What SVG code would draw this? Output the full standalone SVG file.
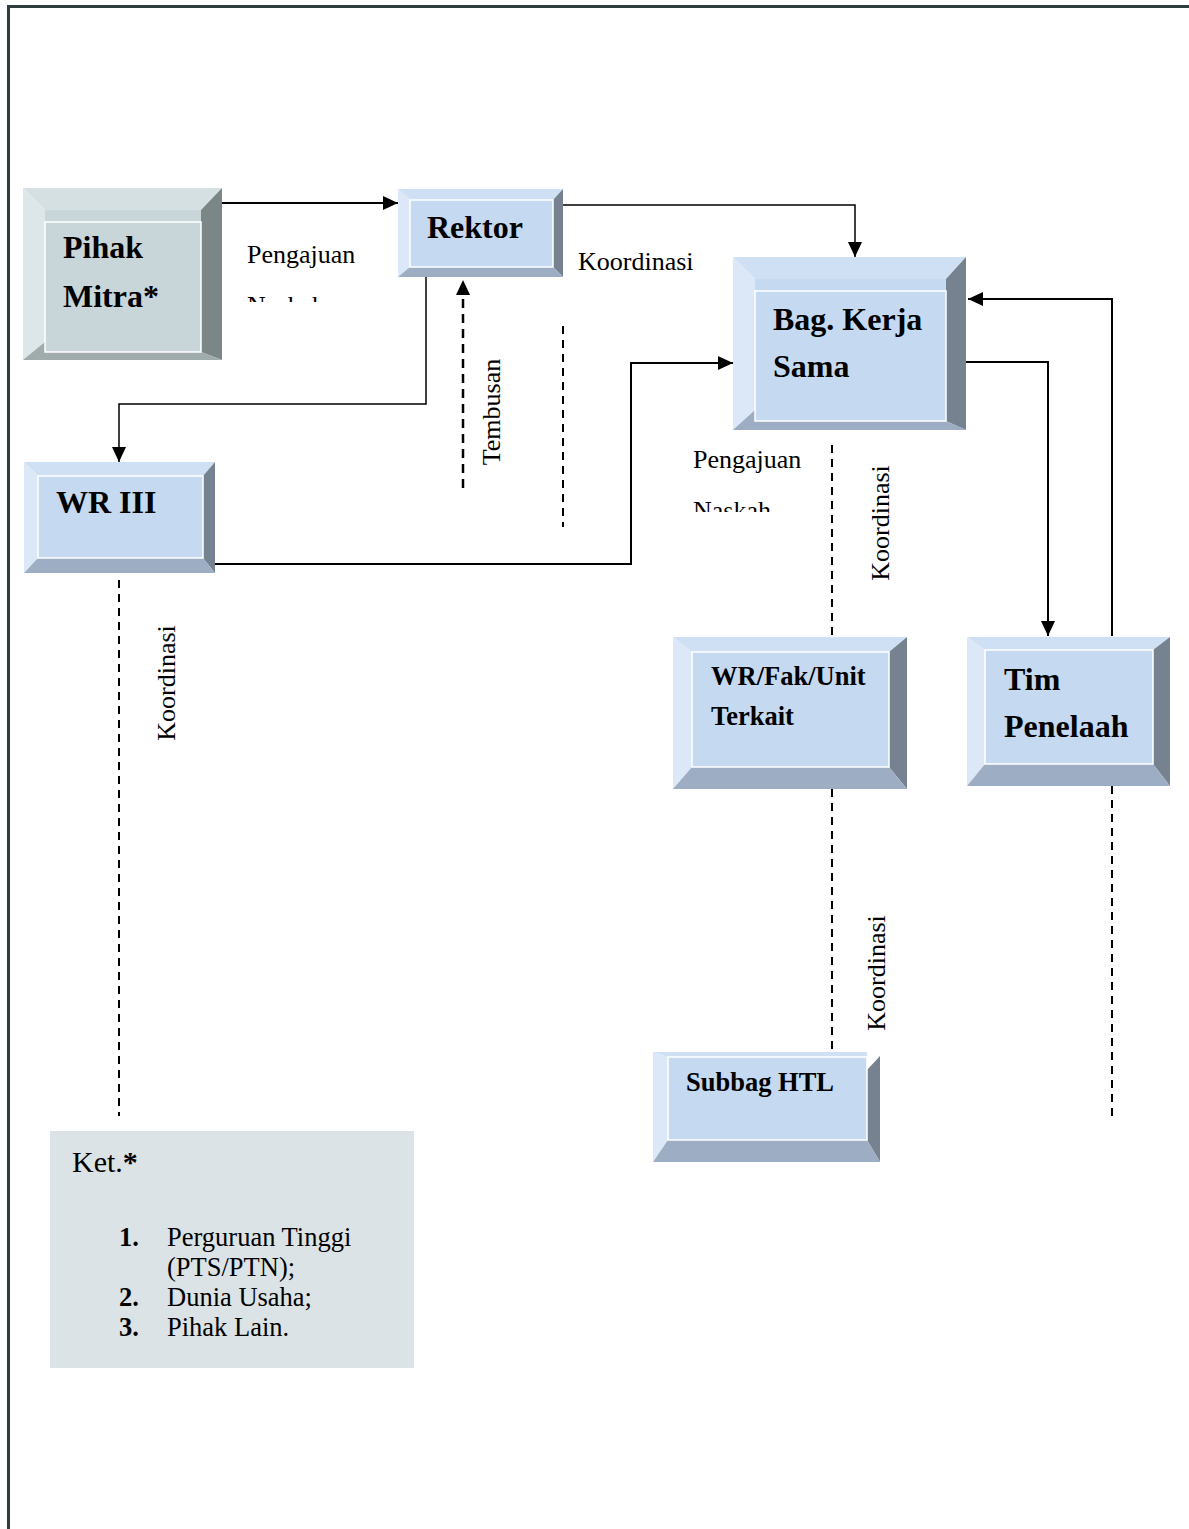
<svg xmlns="http://www.w3.org/2000/svg" width="1189" height="1529" viewBox="0 0 1189 1529">
<style>
text{font-family:"Liberation Serif","Times New Roman",serif;fill:#000}
.b{font-weight:bold}
.n{font-size:32px}
.s{font-size:26.5px}
.lab{font-size:26px}
.ln{fill:none;stroke:#000;stroke-width:2}
.lt{fill:none;stroke:#000;stroke-width:1.5}
.d1{fill:none;stroke:#000;stroke-width:2.5;stroke-dasharray:9 6}
.d2{fill:none;stroke:#000;stroke-width:2;stroke-dasharray:8 6}
.bt{fill:#d0e0f4}.bl{fill:#dce8f7}.br{fill:#76828f}.bb{fill:#9dadc3}.bf{fill:#c5d9f1}
.gt{fill:#d5e0e2}.gl{fill:#dde6e8}.gr{fill:#7b8686}.gb{fill:#a0abab}.gf{fill:#c8d6da}
.wl{fill:none;stroke:#ffffff;stroke-width:1.5}
</style>
<defs>
<marker id="ah" markerUnits="userSpaceOnUse" markerWidth="16" markerHeight="14" refX="15" refY="7" orient="auto">
<path d="M0,0 L15,7 L0,14 Z" fill="#000"/>
</marker>
<clipPath id="c1"><rect x="240" y="280" width="140" height="22"/></clipPath>
<clipPath id="c2"><rect x="685" y="480" width="140" height="32"/></clipPath>
</defs>
<rect x="0" y="0" width="1189" height="1529" fill="#fff"/>
<path d="M8.5,1529 V6.5 H1189" fill="none" stroke="#2e3d3d" stroke-width="3"/>

<g id="connectors">
<path class="ln" d="M222,203 H398" marker-end="url(#ah)"/>
<path class="lt" d="M563,205 H855 V257" marker-end="url(#ah)"/>
<path class="lt" d="M426,277 V404 H119 V462" marker-end="url(#ah)"/>
<path class="d1" d="M463,488 V280" marker-end="url(#ah)"/>
<path class="d2" d="M563,326 V527"/>
<path class="ln" d="M215,564 H631 V363 H733" marker-end="url(#ah)"/>
<path class="ln" d="M966,362 H1048 V636" marker-end="url(#ah)"/>
<path class="ln" d="M1112,636 V299 H968" marker-end="url(#ah)"/>
<path class="d2" d="M832,445 V637"/>
<path class="d2" d="M832,789 V1052"/>
<path class="d2" d="M1112,786 V1116"/>
<path class="d2" d="M119,580 V1116"/>
<text class="lab" x="247" y="263">Pengajuan</text>
<text class="lab" x="247" y="314" clip-path="url(#c1)">Naskah</text>
<text class="lab" x="578" y="270">Koordinasi</text>
<text class="lab" text-anchor="middle" transform="translate(500,412) rotate(-90)">Tembusan</text>
<text class="lab" x="693" y="468">Pengajuan</text>
<text class="lab" x="693" y="519" clip-path="url(#c2)">Naskah</text>
<text class="lab" text-anchor="middle" transform="translate(889,523) rotate(-90)">Koordinasi</text>
<text class="lab" text-anchor="middle" transform="translate(885,973) rotate(-90)">Koordinasi</text>
<text class="lab" text-anchor="middle" transform="translate(175,683) rotate(-90)">Koordinasi</text>
</g>

<g id="pihak-mitra">
<polygon class="gt" points="23,188 222,188 201,210 45,210"/>
<polygon class="gl" points="23,188 45,210 45,352 23,360"/>
<polygon class="gr" points="222,188 222,360 201,352 201,210"/>
<polygon class="gb" points="23,360 222,360 201,352 45,352 45,342"/>
<rect class="gf" x="45" y="210" width="156" height="142"/>
<rect class="wl" x="45" y="222" width="156" height="130"/>
<text class="b n" x="63" y="258">Pihak</text>
<text class="b n" x="63" y="307">Mitra*</text>
</g>

<g id="rektor">
<polygon class="bt" points="398,189 563,189 553,200 410,200"/>
<polygon class="bl" points="398,189 410,200 410,267 398,277"/>
<polygon class="br" points="563,189 563,277 553,267 553,200"/>
<polygon class="bb" points="398,277 563,277 553,267 410,267"/>
<rect class="bf" x="410" y="200" width="143" height="67"/>
<rect class="wl" x="410" y="200" width="143" height="67"/>
<text class="b n" x="427" y="238">Rektor</text>
</g>

<g id="bag-kerja-sama">
<polygon class="bt" points="733,257 966,257 946,279 755,279"/>
<polygon class="bl" points="733,257 755,279 755,421 733,430"/>
<polygon class="br" points="966,257 966,430 946,421 946,279"/>
<polygon class="bb" points="733,430 966,430 946,421 755,421 755,410"/>
<rect class="bf" x="755" y="279" width="191" height="142"/>
<rect class="wl" x="755" y="291" width="191" height="130"/>
<text class="b n" x="773" y="330">Bag. Kerja</text>
<text class="b n" x="773" y="377">Sama</text>
</g>

<g id="wr-iii">
<polygon class="bt" points="24,462 215,462 203,476 38,476"/>
<polygon class="bl" points="24,462 38,476 38,558 24,573"/>
<polygon class="br" points="215,462 215,573 203,558 203,476"/>
<polygon class="bb" points="24,573 215,573 203,558 38,558"/>
<rect class="bf" x="38" y="476" width="165" height="82"/>
<rect class="wl" x="38" y="476" width="165" height="82"/>
<text class="b n" x="56" y="513">WR III</text>
</g>

<g id="wr-fak-unit">
<polygon class="bt" points="673,637 907,637 889,652 692,652"/>
<polygon class="bl" points="673,637 692,652 692,767 673,789"/>
<polygon class="br" points="907,637 907,789 889,767 889,652"/>
<polygon class="bb" points="673,789 907,789 889,767 692,767"/>
<rect class="bf" x="692" y="652" width="197" height="115"/>
<rect class="wl" x="692" y="652" width="197" height="115"/>
<text class="b s" x="711" y="685">WR/Fak/Unit</text>
<text class="b s" x="711" y="725">Terkait</text>
</g>

<g id="tim-penelaah">
<polygon class="bt" points="967,637 1170,637 1153,650 985,650"/>
<polygon class="bl" points="967,637 985,650 985,764 967,786"/>
<polygon class="br" points="1170,637 1170,786 1153,764 1153,650"/>
<polygon class="bb" points="967,786 1170,786 1153,764 985,764"/>
<rect class="bf" x="985" y="650" width="168" height="114"/>
<rect class="wl" x="985" y="650" width="168" height="114"/>
<text class="b n" x="1004" y="690">Tim</text>
<text class="b n" x="1004" y="737">Penelaah</text>
</g>

<g id="subbag-htl">
<polygon class="bt" points="653,1052 867,1052 867,1057 668,1057"/>
<polygon class="bl" points="653,1052 668,1057 668,1140 653,1162"/>
<polygon class="br" points="880,1056 880,1162 867,1140 867,1070"/>
<polygon class="bb" points="653,1162 880,1162 867,1140 668,1140"/>
<rect class="bf" x="668" y="1057" width="199" height="83"/>
<rect class="wl" x="668" y="1057" width="199" height="83"/>
<text class="b s" x="686" y="1091">Subbag HTL</text>
</g>

<g id="keterangan">
<rect x="50" y="1131" width="364" height="237" fill="#dce3e6"/>
<text x="72" y="1172" font-size="30">Ket.<tspan class="b">*</tspan></text>
<text class="b s" x="119" y="1246">1.</text>
<text class="s" x="167" y="1246">Perguruan Tinggi</text>
<text class="s" x="167" y="1276">(PTS/PTN);</text>
<text class="b s" x="119" y="1306">2.</text>
<text class="s" x="167" y="1306">Dunia Usaha;</text>
<text class="b s" x="119" y="1336">3.</text>
<text class="s" x="167" y="1336">Pihak Lain.</text>
</g>
</svg>
